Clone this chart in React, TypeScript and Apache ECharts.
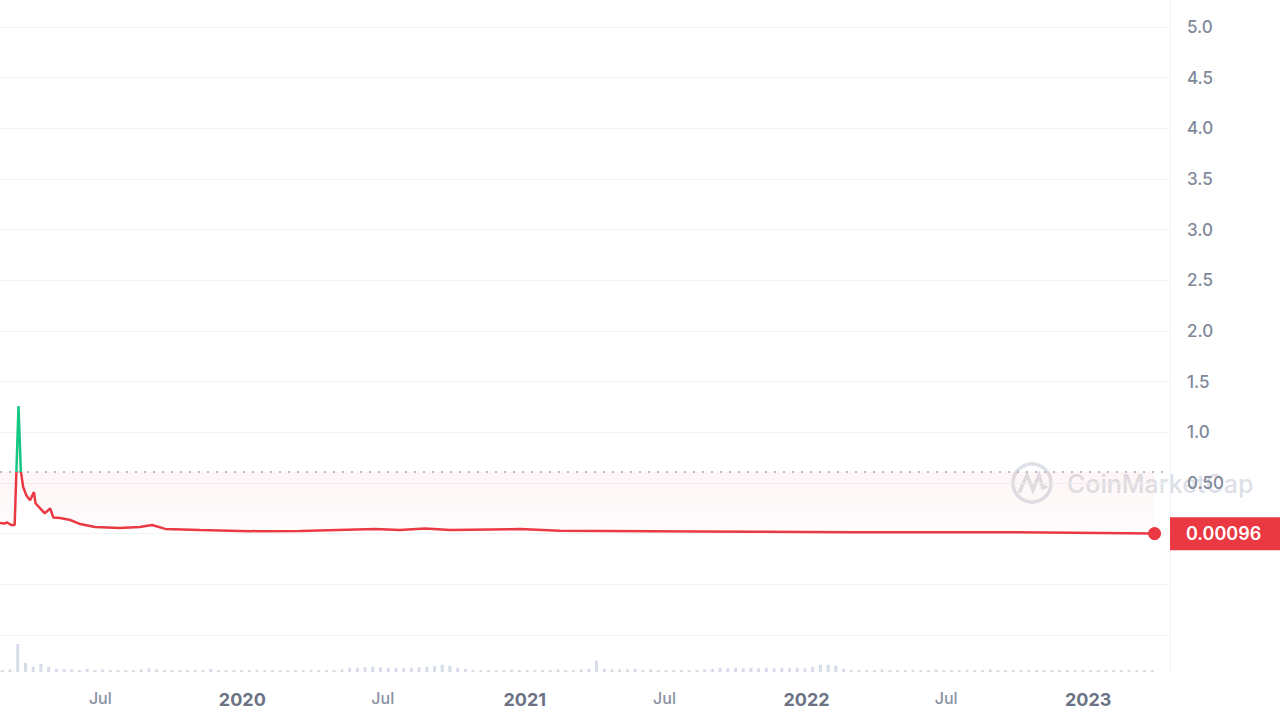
import React, { useEffect, useRef } from "react";
import * as echarts from "echarts";

// ---- data ----
const AXIS_START = "2019-02-21";
const AXIS_END = "2023-04-17";

const priceDates = [
  "2019-02-21", "2019-02-27", "2019-03-02", "2019-03-08", "2019-03-12", "2019-03-17",
  "2019-03-20", "2019-03-23", "2019-03-27", "2019-04-01", "2019-04-06", "2019-04-08",
  "2019-04-14", "2019-04-20", "2019-04-27", "2019-05-01", "2019-05-10", "2019-05-23",
  "2019-06-05", "2019-06-24", "2019-07-26", "2019-08-21", "2019-09-06", "2019-09-23",
  "2019-11-07", "2020-01-11", "2020-03-16", "2020-06-21", "2020-07-23", "2020-08-25",
  "2020-09-26", "2020-12-26", "2021-02-15", "2021-06-12", "2021-10-20", "2022-02-26",
  "2022-09-08", "2023-03-28",
];
const priceValues = [
  0.105, 0.1, 0.11, 0.085, 0.085, 1.26,
  0.62, 0.46, 0.38, 0.33, 0.41, 0.3,
  0.25, 0.2, 0.25, 0.16, 0.155, 0.135,
  0.095, 0.065, 0.056, 0.065, 0.085, 0.047,
  0.037, 0.025, 0.026, 0.045, 0.035, 0.05,
  0.035, 0.045, 0.03, 0.025, 0.02, 0.015,
  0.015, 0.00096,
];
const LAST_PRICE = "0.00096";
const REFERENCE_PRICE = 0.61;

const VOLUME_START = "2019-02-24";
const VOLUME_STEP_DAYS = 10;
const volumeValues = [
  2, 2.5, 27, 9, 5, 8, 5, 3, 3, 2.5,
  2, 3, 2, 2.5, 2, 2, 2, 2, 2.5, 3.5,
  2.5, 2, 2, 2, 2, 2, 2, 3, 2, 2,
  2, 2, 2, 2, 2, 2, 2, 2, 2, 2,
  2, 2, 2, 2, 2.5, 4, 4, 4.5, 5, 4.5,
  4, 4, 3.5, 4, 4.5, 5, 5.5, 7, 6, 4,
  3, 2, 2, 2, 2, 2, 2.5, 2, 2, 2,
  2, 2, 2.5, 2, 2, 2.5, 3, 11, 3, 2.5,
  2.5, 2.5, 3, 2, 2.5, 2, 2, 2, 2, 2,
  2, 2.5, 3, 4, 3.5, 4, 3.5, 4, 3.5, 4,
  3.5, 4, 3.5, 4, 3.5, 5, 7, 7, 6, 3,
  2, 2, 2, 2, 2.5, 2, 2, 2, 2, 2,
  2, 2.5, 2, 2, 2, 2, 2, 2, 2.5, 2,
  2, 2, 2, 2, 2, 2, 2, 2, 2, 2,
  2, 2, 2, 2, 2, 2, 2, 2, 2, 2,
];

const yTickMin = -1.0;
const yTickMax = 5.0;
const yTickInterval = 0.5;

// ---- helpers ----
const DAY = 86400000;
const toTime = (d: string) => Date.parse(d + "T00:00:00Z");
const toDate = (t: number) => new Date(t).toISOString().slice(0, 10);

function dayList(start: string, end: string): string[] {
  const out: string[] = [];
  for (let t = toTime(start); t <= toTime(end); t += DAY) out.push(toDate(t));
  return out;
}

const RED = "#ea3943";
const GREEN = "#16c784";

export default function App() {
  const ref = useRef<HTMLDivElement>(null);

  useEffect(() => {
    if (!ref.current) return;
    const chart = echarts.init(ref.current, undefined, { renderer: "svg" });
    const days = dayList(AXIS_START, AXIS_END);
    const priceData = priceDates.map((d, i) => [d, priceValues[i]]);
    const volumeData = volumeValues.map((v, i) => [
      toDate(toTime(VOLUME_START) + i * VOLUME_STEP_DAYS * DAY),
      v,
    ]);
    const lastDate = priceDates[priceDates.length - 1];
    const font = "Inter, 'Noto Sans', sans-serif";

    chart.setOption({
      animation: false,
      backgroundColor: "#ffffff",
      textStyle: { fontFamily: font },
      grid: [
        { left: 0, right: 110, top: 27, bottom: 85, containLabel: false },
        { left: 0, right: 110, top: 643, bottom: 48, containLabel: false },
      ],
      visualMap: {
        show: false,
        type: "piecewise",
        seriesIndex: 0,
        dimension: 1,
        pieces: [
          { gte: -10, lte: REFERENCE_PRICE, color: RED },
          { gt: REFERENCE_PRICE, lte: 10, color: GREEN },
        ],
        outOfRange: { color: RED },
      },
      xAxis: [
        {
          type: "category",
          gridIndex: 0,
          data: days,
          boundaryGap: false,
          axisLine: { show: false },
          axisTick: { show: false },
          axisLabel: { show: false },
          splitLine: { show: false },
        },
        {
          type: "category",
          gridIndex: 1,
          data: days,
          boundaryGap: false,
          axisLine: { show: false },
          axisTick: { show: false },
          splitLine: { show: false },
          axisLabel: {
            show: true,
            margin: 18,
            interval: (_i: number, v: string) => v.endsWith("-01-01") || v.endsWith("-07-01"),
            formatter: (v: string) =>
              v.endsWith("-01-01") ? `{y|${v.slice(0, 4)}}` : "{m|Jul}",
            rich: {
              y: { fontSize: 18, fontWeight: 700, color: "#6b7385", fontFamily: font },
              m: { fontSize: 16, fontWeight: 500, color: "#8a91a1", fontFamily: font },
            },
          },
        },
      ],
      yAxis: [
        {
          type: "value",
          gridIndex: 0,
          position: "right",
          min: yTickMin,
          max: yTickMax,
          interval: yTickInterval,
          axisLine: { show: false },
          axisTick: { show: false },
          splitLine: { show: true, lineStyle: { color: "#f1f3f6", width: 1 } },
          axisLabel: {
            margin: 17,
            align: "left",
            fontSize: 17,
            fontWeight: 500,
            color: "#80889a",
            fontFamily: font,
            formatter: (v: number) => {
              if (Math.abs(v - 0.5) < 1e-9) return "0.50";
              if (v >= 1) return v.toFixed(1);
              return "";
            },
          },
        },
        {
          type: "value",
          gridIndex: 1,
          min: 0,
          max: 28,
          show: false,
          splitLine: { show: false },
        },
      ],
      graphic: [
        {
          type: "line",
          z: -1,
          shape: { x1: 1170.5, y1: 0, x2: 1170.5, y2: 672 },
          style: { stroke: "#f0f2f5", lineWidth: 1 },
          silent: true,
        },
        {
          type: "group",
          z: 0,
          silent: true,
          children: [
            {
              type: "circle",
              shape: { cx: 1032, cy: 483, r: 19 },
              style: { fill: "none", stroke: "#dde1e7", lineWidth: 3.5 },
            },
            {
              type: "polyline",
              shape: {
                points: [
                  [1019, 493], [1027, 475], [1033, 490], [1039, 475], [1043, 488], [1047, 486],
                ],
              },
              style: { fill: "none", stroke: "#dde1e7", lineWidth: 3.5 },
            },
            {
              type: "text",
              x: 1067,
              y: 484,
              style: {
                text: "CoinMarketCap",
                fill: "#dde1e7",
                font: `500 25px ${font}`,
                verticalAlign: "middle",
              },
            },
          ],
        },
      ],
      series: [
        {
          type: "line",
          xAxisIndex: 0,
          yAxisIndex: 0,
          data: priceData,
          showSymbol: false,
          symbol: "none",
          smooth: false,
          lineStyle: { width: 2.5 },
          z: 5,
          areaStyle: {
            origin: REFERENCE_PRICE,
            color: new echarts.graphic.LinearGradient(0, 0, 0, 1, [
              { offset: 0, color: "rgba(234,57,67,0.12)" },
              { offset: 1, color: "rgba(234,57,67,0.02)" },
            ]),
          },
          markPoint: {
            symbol: "circle",
            symbolSize: 13,
            itemStyle: { color: RED },
            label: { show: false },
            data: [{ coord: [lastDate, Number(LAST_PRICE)] }],
          },
          markLine: {
            silent: true,
            symbol: "none",
            animation: false,
            data: [
              {
                yAxis: REFERENCE_PRICE,
                lineStyle: { color: "#a3aab6", type: [2, 7], width: 1.5, opacity: 1 },
                label: { show: false },
              },
              {
                yAxis: Number(LAST_PRICE),
                lineStyle: { color: "rgba(0,0,0,0)", width: 1, opacity: 1 },
                label: {
                  show: true,
                  position: "end",
                  distance: 0,
                  formatter: LAST_PRICE,
                  color: "#ffffff",
                  backgroundColor: RED,
                  opacity: 1,
                  fontSize: 18,
                  fontWeight: 600,
                  fontFamily: font,
                  padding: [8, 20, 7, 16],
                },
              },
            ],
          },
        },
        {
          type: "bar",
          xAxisIndex: 1,
          yAxisIndex: 1,
          data: volumeData,
          barWidth: 3,
          itemStyle: { color: "#d6dce8" },
        },
      ],
    });

    return () => chart.dispose();
  }, []);

  return (
    <div
      ref={ref}
      style={{ position: "fixed", left: 0, top: 0, width: 1280, height: 720, background: "#fff" }}
    />
  );
}
